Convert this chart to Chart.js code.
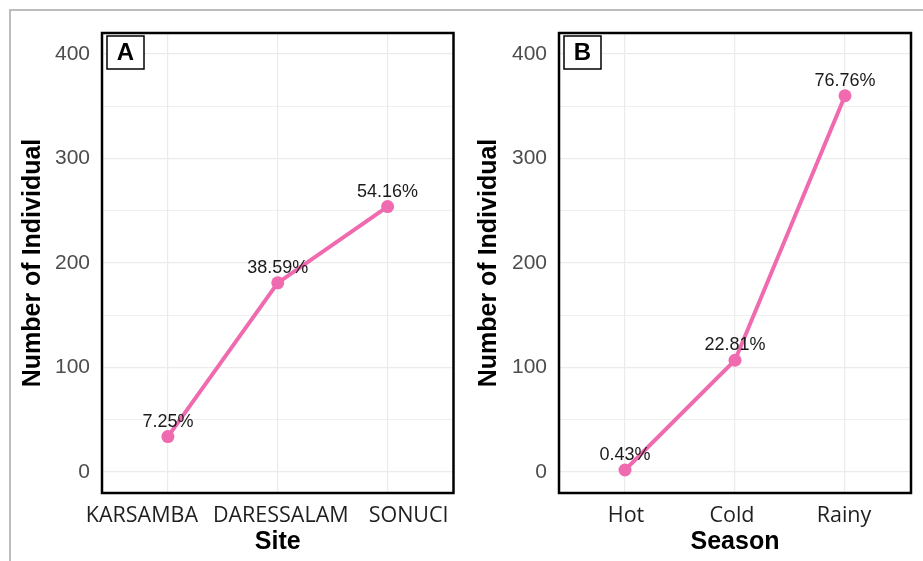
<!DOCTYPE html>
<html><head><meta charset="utf-8">
<script src="https://cdn.jsdelivr.net/npm/chart.js@4.4.1/dist/chart.umd.min.js"></script>
<style>
html,body{margin:0;padding:0;background:#fff;width:923px;height:561px;overflow:hidden;}
#frame{position:absolute;left:9px;top:9px;width:930px;height:570px;border-top:2px solid #bdbdbd;border-left:2px solid #bdbdbd;}
.panel{position:absolute;top:0;}
</style></head><body>
<div id="frame"></div>
<div class="panel" style="left:0px"><canvas id="cA" width="460" height="561"></canvas></div>
<div class="panel" style="left:460px"><canvas id="cB" width="463" height="561"></canvas></div>
<script>
// ---- data ----
const siteCategories = ['KARSAMBA', 'DARESSALAM', 'SONUCI'];
const siteCounts = [34, 181, 254];
const sitePercents = ['7.25%', '38.59%', '54.16%'];

const seasonCategories = ['Hot', 'Cold', 'Rainy'];
const seasonCounts = [2, 107, 360];
const seasonPercents = ['0.43%', '22.81%', '76.76%'];

const yTickValues = [0, 50, 100, 150, 200, 250, 300, 350, 400];
const yMajorStep = 100;
const yTitle = 'Number of Individual';

// ---- styling ----
const PINK = '#f06aaf';
const GRID = '#ebebeb';

const panelPlugin = {
  id: 'panelDecor',
  afterDatasetsDraw(chart, args, opts) {
    const ctx = chart.ctx;
    const ca = chart.chartArea;
    const xs = chart.scales.x;
    // data labels
    const meta = chart.getDatasetMeta(0);
    ctx.save();
    ctx.font = '18px "Liberation Sans", Arial, sans-serif';
    ctx.fillStyle = '#1a1a1a';
    ctx.textAlign = 'center';
    ctx.textBaseline = 'middle';
    meta.data.forEach((pt, i) => {
      ctx.fillText(opts.labels[i], pt.x, pt.y - 15);
    });
    // category labels (positioned from the x scale, with the reference's small shifts)
    ctx.font = '21.5px "Open Sans", sans-serif';
    ctx.fillStyle = '#1f1f1f';
    opts.cats.forEach((c, i) => {
      const px = xs.getPixelForValue(i + 1) + (opts.shift[i] || 0);
      ctx.fillText(c, px, ca.bottom + 23);
    });
    // panel border
    ctx.strokeStyle = '#000';
    ctx.lineWidth = 2.5;
    ctx.strokeRect(ca.left, ca.top, ca.right - ca.left, ca.bottom - ca.top);
    // panel tag
    const bx = ca.left + 5, by = ca.top + 3, bw = 37, bh = 33;
    ctx.fillStyle = '#fff';
    ctx.fillRect(bx, by, bw, bh);
    ctx.lineWidth = 1.5;
    ctx.strokeRect(bx, by, bw, bh);
    ctx.fillStyle = '#000';
    ctx.font = 'bold 24px "Liberation Sans", Arial, sans-serif';
    ctx.fillText(opts.tag, bx + bw / 2, by + bh / 2 + 1);
    ctx.restore();
  }
};

function makeChart(id, cats, counts, pcts, xTitle, tag, yWidth, padRight, yTitlePad, shift) {
  return new Chart(document.getElementById(id), {
    type: 'line',
    data: {
      datasets: [{
        data: counts.map((v, i) => ({x: i + 1, y: v})),
        borderColor: PINK,
        backgroundColor: PINK,
        borderWidth: 4,
        pointRadius: 6.5,
        pointHoverRadius: 6.5,
        pointBorderWidth: 0,
        tension: 0
      }]
    },
    options: {
      responsive: false,
      animation: false,
      devicePixelRatio: 1,
      layout: {padding: {top: 33, right: padRight, bottom: 0, left: 0}},
      plugins: {
        legend: {display: false},
        tooltip: {enabled: false},
        panelDecor: {labels: pcts, tag: tag, cats: cats, shift: shift}
      },
      scales: {
        x: {
          type: 'linear',
          min: 0.4,
          max: 3.6,
          afterBuildTicks(s) { s.ticks = cats.map((c, i) => ({value: i + 1})); },
          afterFit(s) { s.height = 68; },
          grid: {color: GRID, lineWidth: 1.2, drawTicks: false},
          border: {display: false},
          ticks: {display: false},
          title: {
            display: true,
            text: xTitle,
            color: '#000',
            font: {family: '"Liberation Sans", Arial, sans-serif', size: 25, weight: 'bold'},
            padding: {top: 0, bottom: 4}
          }
        },
        y: {
          type: 'linear',
          min: -20,
          max: 420,
          afterBuildTicks(s) { s.ticks = yTickValues.map(v => ({value: v})); },
          afterFit(s) { s.width = yWidth; },
          grid: {
            color: GRID,
            drawTicks: false,
            lineWidth: (c) => (c.tick && c.tick.value % yMajorStep === 0) ? 1.2 : 0.8
          },
          border: {display: false},
          ticks: {
            padding: 12,
            autoSkip: false,
            color: '#4d4d4d',
            font: {family: '"Liberation Sans", Arial, sans-serif', size: 21},
            callback: (v) => (v % yMajorStep === 0 ? String(v) : '')
          },
          title: {
            display: true,
            text: yTitle,
            color: '#000',
            font: {family: '"Liberation Sans", Arial, sans-serif', size: 25, weight: 'bold'},
            padding: {top: yTitlePad, bottom: 0}
          }
        }
      }
    },
    plugins: [panelPlugin]
  });
}

makeChart('cA', siteCategories, siteCounts, sitePercents, 'Site', 'A', 102, 6, 18, [-26, 3, 21]);
makeChart('cB', seasonCategories, seasonCounts, seasonPercents, 'Season', 'B', 99, 12, 14, [1, -3, -1]);
</script>
</body></html>
